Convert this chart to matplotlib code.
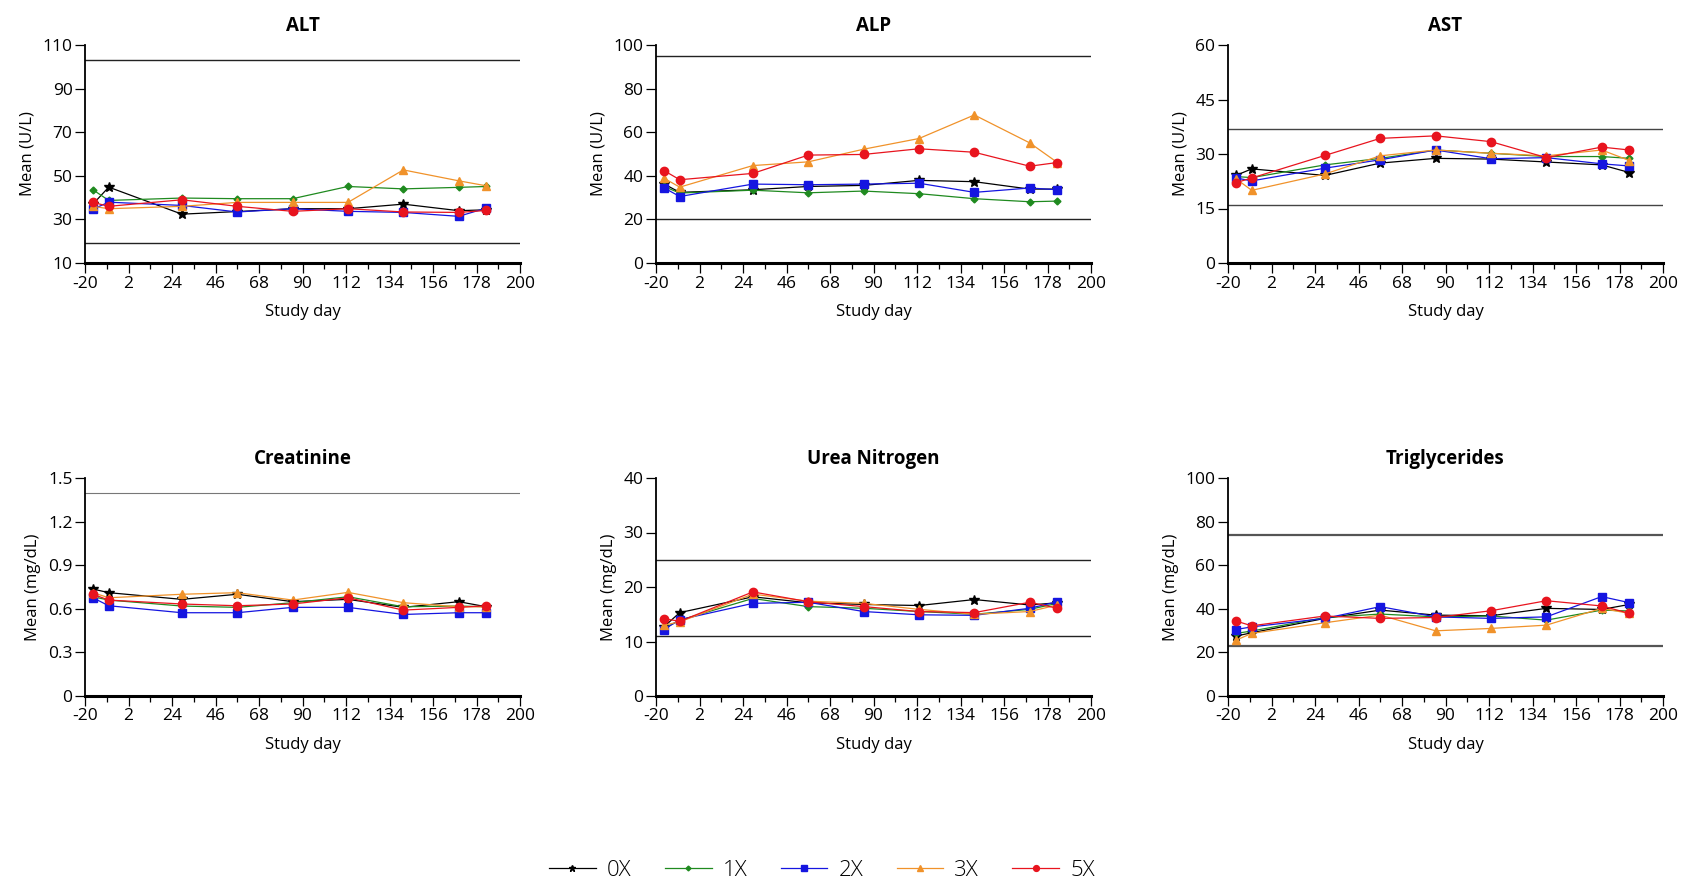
import numpy
import matplotlib
matplotlib.use('Agg')
import matplotlib.pyplot as plt
from matplotlib.ticker import FixedLocator, FormatStrFormatter

plt.rcParams['font.family'] = ['Open Sans', 'DejaVu Sans']
plt.rcParams['axes.unicode_minus'] = False

# study days of the measurements
days = [-16, -8, 29, 57, 85, 113, 141, 169, 183]
groups = ['0X', '1X', '2X', '3X', '5X']

# mean values, one row per group (0X, 1X, 2X, 3X, 5X)
alt = [[37.0, 44.8, 32.4, 33.6, 34.9, 34.9, 37.0, 34.0, 34.4],
       [43.6, 38.7, 39.8, 39.5, 39.5, 45.1, 44.0, 44.7, 45.1],
       [34.7, 37.9, 36.4, 33.4, 34.9, 33.7, 33.2, 31.4, 35.2],
       [36.0, 34.9, 36.0, 37.8, 37.8, 37.8, 52.7, 47.7, 45.4],
       [37.8, 36.0, 39.0, 36.0, 33.7, 34.9, 33.4, 33.2, 34.1]]
alp = [[36.3, 32.4, 33.6, 35.1, 35.6, 37.9, 37.3, 33.9, 33.9],
       [35.1, 32.1, 33.4, 32.2, 33.0, 31.8, 29.5, 28.1, 28.4],
       [34.5, 30.5, 36.2, 35.9, 36.2, 36.6, 32.4, 34.4, 33.6],
       [38.9, 34.8, 44.7, 46.4, 52.2, 57.1, 67.9, 55.1, 46.1],
       [42.4, 38.2, 41.1, 49.5, 49.8, 52.4, 50.8, 44.4, 46.1]]
ast = [[24.1, 25.9, 24.1, 27.5, 28.8, 28.6, 27.8, 27.0, 24.9],
       [23.8, 23.5, 27.0, 28.8, 31.1, 30.2, 29.3, 29.3, 28.8],
       [23.4, 22.6, 26.1, 28.4, 31.1, 28.7, 29.0, 27.3, 26.7],
       [23.2, 20.0, 24.5, 29.5, 31.1, 30.2, 29.5, 31.1, 28.2],
       [22.1, 23.4, 29.6, 34.3, 35.0, 33.4, 29.0, 31.9, 31.1]]
creatinine = [[0.736, 0.711, 0.665, 0.700, 0.649, 0.665, 0.610, 0.649, 0.614],
              [0.683, 0.660, 0.619, 0.610, 0.642, 0.683, 0.614, 0.619, 0.614],
              [0.676, 0.621, 0.573, 0.573, 0.610, 0.610, 0.561, 0.573, 0.573],
              [0.711, 0.676, 0.700, 0.711, 0.660, 0.713, 0.642, 0.614, 0.614],
              [0.700, 0.660, 0.633, 0.621, 0.633, 0.676, 0.591, 0.610, 0.621]]
urea = [[12.7, 15.3, 18.2, 17.1, 16.8, 16.6, 17.7, 16.7, 17.1],
        [12.4, 13.9, 17.9, 16.4, 16.1, 15.5, 15.0, 15.9, 17.0],
        [12.2, 14.0, 17.0, 17.2, 15.5, 14.9, 14.8, 16.1, 17.3],
        [13.0, 13.6, 18.7, 17.4, 17.0, 15.9, 15.0, 15.5, 16.7],
        [14.2, 13.7, 19.1, 17.3, 16.4, 15.5, 15.3, 17.2, 16.1]]
triglycerides = [[27.5, 29.0, 35.6, 39.4, 37.1, 36.8, 40.2, 39.7, 42.0],
                 [28.7, 29.8, 36.0, 37.6, 36.3, 36.7, 34.8, 39.4, 39.0],
                 [30.5, 31.7, 35.6, 41.0, 36.3, 35.6, 36.3, 45.6, 42.8],
                 [25.6, 28.7, 33.6, 37.1, 29.9, 31.0, 32.5, 40.2, 37.9],
                 [34.4, 32.2, 36.7, 35.6, 36.0, 39.1, 43.7, 41.3, 37.9]]

# normal ranges
ref_alt = [19, 103]
ref_alp = [20, 95]
ref_ast = [16, 37]
ref_creatinine = [1.4]
ref_urea = [11, 25]
ref_triglycerides = [23, 74]

x_ticks = numpy.arange(-20, 201, 22)

colors = ['black', '#1f8a1f', '#1515e0', '#f0922a', '#e8141e']
markers = ['*', 'D', 's', '^', 'o']
msizes = [7, 3.5, 5.5, 5.5, 6]

panels = [('ALT', alt, ref_alt, (10, 110), 20, 'Mean (U/L)', ('#222222', 1.0)),
          ('ALP', alp, ref_alp, (0, 100), 20, 'Mean (U/L)', ('#222222', 1.0)),
          ('AST', ast, ref_ast, (0, 60), 15, 'Mean (U/L)', ('#444444', 1.0)),
          ('Creatinine', creatinine, ref_creatinine, (0, 1.5), 0.3, 'Mean (mg/dL)', ('#777777', 0.8)),
          ('Urea Nitrogen', urea, ref_urea, (0, 40), 10, 'Mean (mg/dL)', ('#222222', 1.0)),
          ('Triglycerides', triglycerides, ref_triglycerides, (0, 100), 20, 'Mean (mg/dL)', ('#555555', 1.6))]

W, H = 1691, 886
lefts = [85, 656, 1228]
tops = [45, 478]
aw, ah = 435, 218

fig = plt.figure(figsize=(W / 100, H / 100), dpi=100)

for k, (title, values, refs, ylim, ystep, ylabel, refstyle) in enumerate(panels):
    row, col = divmod(k, 3)
    ax = fig.add_axes([lefts[col] / W, 1 - (tops[row] + ah) / H, aw / W, ah / H])
    for ref in refs:
        ax.axhline(ref, color=refstyle[0], lw=refstyle[1], zorder=1)
    for vals, grp, c, m, ms in zip(values, groups, colors, markers, msizes):
        ax.plot(days, vals, color=c, marker=m, markersize=ms, lw=0.9, label=grp, zorder=3)
    ax.set_xlim(-20, 200)
    ax.set_ylim(*ylim)
    ax.xaxis.set_major_locator(FixedLocator(x_ticks))
    ax.xaxis.set_minor_locator(FixedLocator(x_ticks[:-1] + 11))
    ax.yaxis.set_major_locator(FixedLocator(numpy.arange(ylim[0], ylim[1] + ystep / 2, ystep)))
    ax.yaxis.set_major_formatter(FormatStrFormatter('%g'))
    ax.spines['top'].set_visible(False)
    ax.spines['right'].set_visible(False)
    ax.spines['left'].set_linewidth(1.3)
    ax.spines['bottom'].set_linewidth(2.2)
    ax.tick_params(axis='both', which='major', direction='out', length=7, width=0.9, labelsize=12.5, pad=2)
    ax.tick_params(axis='x', which='minor', direction='out', length=4, width=0.9)
    ax.set_title(title, fontsize=13.5, fontweight='bold', pad=10)
    ax.set_ylabel(ylabel, fontsize=12, labelpad=5)
    ax.set_xlabel('Study day', fontsize=12, labelpad=9)
    if k == 0:
        handles, labels = ax.get_legend_handles_labels()

fig.legend(handles, labels, loc='center', bbox_to_anchor=(822 / W, 1 - 870 / H), ncol=5,
           frameon=False, handlelength=2.1, columnspacing=1.5, handletextpad=0.5,
           markerscale=0.7, prop={'size': 16, 'weight': 'light'})

fig.savefig('out.png', dpi=100)
